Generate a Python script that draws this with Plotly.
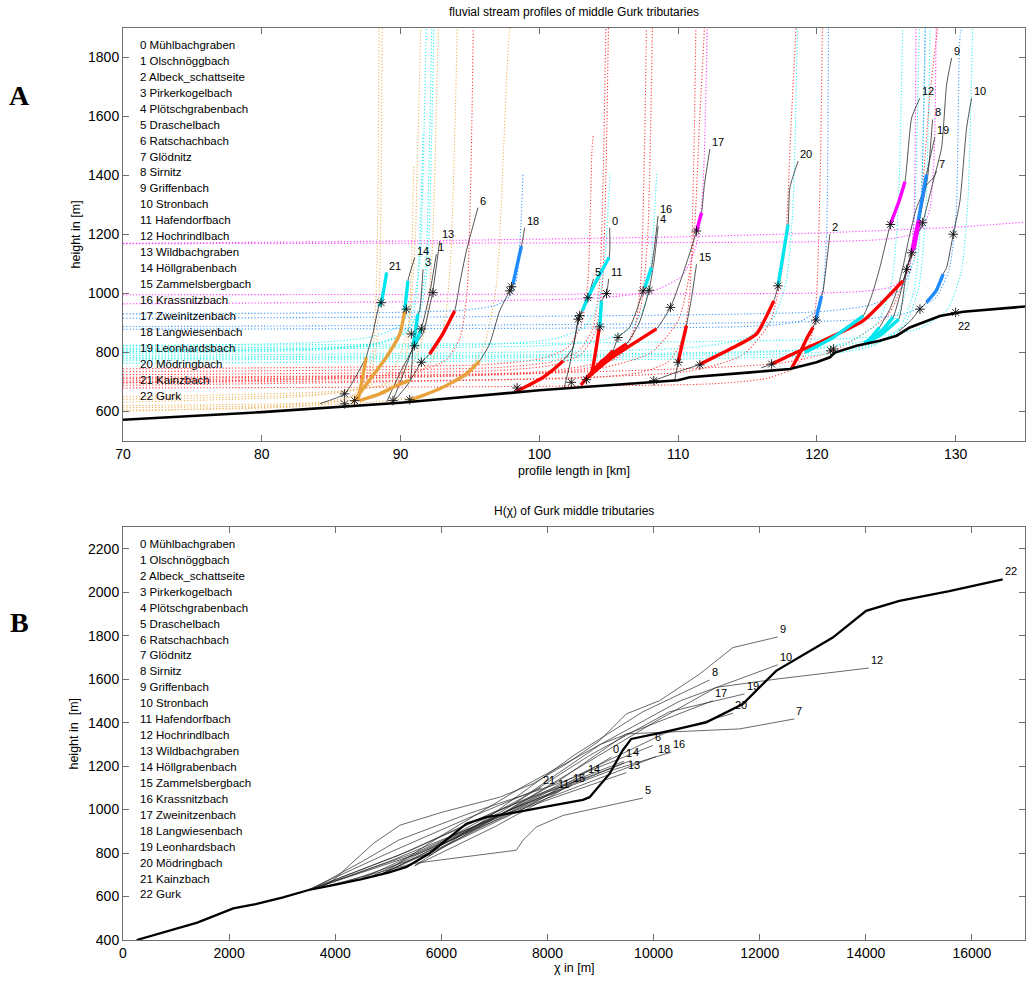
import plotly.graph_objects as go

FONT = "Liberation Sans, Arial, sans-serif"

NAMES = ["Mühlbachgraben", "Olschnöggbach", "Albeck_schattseite", "Pirkerkogelbach",
         "Plötschgrabenbach", "Draschelbach", "Ratschachbach", "Glödnitz", "Sirnitz",
         "Griffenbach", "Stronbach", "Hafendorfbach", "Hochrindlbach", "Wildbachgraben",
         "Höllgrabenbach", "Zammelsbergbach", "Krassnitzbach", "Zweinitzenbach",
         "Langwiesenbach", "Leonhardsbach", "Mödringbach", "Kainzbach", "Gurk"]

# ---------------- Panel A : profile length [km] vs height [m] ----------------
GURK_A_X = [70, 80, 90, 100, 110, 110.84, 115, 118.05, 119.98, 120.94, 121.3, 122.86,
            124.54, 125.75, 126.7, 127.67, 128.87, 130.55, 135]
GURK_A_Y = [572, 598, 630, 672, 706, 716, 732, 744, 767, 784, 800, 823,
            840, 857, 885, 902, 924, 938, 956]

TRIB_A_X = [
    [98.3, 100.27, 101.47, 101.7, 102.43, 102.8, 103.1, 103.5, 104.3, 105.03, 105.07],   # 0
    [89.0, 90.0, 91.0, 91.5, 92.1, 92.58],                                              # 1
    [118.2, 118.8, 119.3, 119.73, 119.93, 120.34, 120.45, 120.94],                      # 2
    [87.05, 88.5, 89.8, 90.66, 90.9, 91.26, 91.38, 91.62],                              # 3
    [103.0, 104.5, 106.28, 107.2, 107.91, 108.3, 108.56],                               # 4
    [101.8, 102.2, 102.6, 102.9, 103.5, 103.9],                                         # 5
    [89.46, 90.5, 91.5, 92.1, 93.0, 93.9, 94.26, 94.74, 95.58],                         # 6
    [123.6, 124.5, 125.2, 125.7, 126.2, 126.6, 127.19, 127.95, 128.39, 128.63],         # 7
    [116.0, 116.74, 118.5, 120.45, 123.34, 126.2, 126.5, 127.0, 127.4, 128.0, 128.34],  # 8
    [123.4, 124.6, 125.5, 126.47, 127.0, 127.62, 128.39, 128.99, 129.35, 129.71],       # 9
    [125.9, 126.8, 127.43, 127.9, 128.6, 129.1, 129.35, 129.83, 130.31, 130.79, 131.15],  # 10
    [103.0, 103.4, 103.76, 104.05, 104.31, 104.36, 104.48, 104.84, 105.0],              # 11
    [119.13, 121.17, 123.34, 124.0, 124.54, 125.3, 125.9, 126.35, 126.83, 127.42],      # 12
    [89.45, 90.3, 90.9, 91.6, 92.3, 92.82],                                             # 13
    [86.57, 88.01, 88.98, 89.95, 90.3, 90.53, 91.02],                                   # 14
    [109.76, 110.0, 110.3, 110.6, 110.97, 111.33],                                      # 15
    [103.4, 104.2, 105.31, 105.67, 106.5, 107.0, 107.48, 107.6, 108.08, 108.56],        # 16
    [103.4, 105.0, 106.6, 108.44, 109.45, 110.3, 111.0, 111.33, 111.69, 111.9, 112.29],  # 17
    [90.66, 92.82, 94.74, 95.7, 96.42, 97.14, 97.87, 98.1, 98.71, 98.95],               # 18
    [123.5, 124.6, 125.9, 126.47, 126.83, 127.3, 127.9, 128.5],                         # 19
    [108.25, 110.0, 111.57, 113.97, 115.65, 116.9, 117.2, 117.93, 118.05, 118.65],      # 20
    [86.93, 87.2, 87.53, 88.0, 88.44, 88.6, 89.0],                                      # 21
]
TRIB_A_Y = [
    [667, 716, 761, 772, 817, 913, 941, 986, 1060, 1122, 1223],
    [633, 735, 823, 880, 1000, 1133],
    [748, 800, 850, 885, 910, 992, 1009, 1201],
    [637, 660, 690, 705, 823, 930, 941, 1082],
    [690, 770, 829, 900, 1011, 1120, 1229],
    [682, 760, 860, 925, 986, 1049],
    [632, 690, 767, 795, 860, 941, 1032, 1144, 1291],
    [832, 885, 941, 1000, 1088, 1180, 1291, 1370, 1392, 1415],
    [748, 761, 800, 840, 908, 1043, 1090, 1150, 1250, 1400, 1590],
    [832, 870, 920, 1082, 1170, 1240, 1381, 1494, 1708, 1798],
    [872, 910, 947, 970, 1010, 1066, 1088, 1201, 1313, 1561, 1662],
    [683, 712, 722, 800, 880, 887, 975, 1000, 1050],
    [800, 851, 924, 1000, 1088, 1234, 1310, 1379, 1595, 1662],
    [637, 740, 817, 863, 1002, 1178],
    [631, 722, 784, 863, 941, 1043, 1122],
    [706, 767, 830, 891, 986, 1099],
    [712, 750, 806, 851, 885, 941, 1009, 1020, 1088, 1263],
    [712, 775, 825, 880, 953, 1060, 1160, 1212, 1274, 1370, 1490],
    [637, 677, 727, 772, 829, 941, 1009, 1032, 1161, 1223],
    [832, 860, 913, 1082, 1140, 1246, 1403, 1530],
    [705, 735, 760, 817, 863, 975, 1026, 1234, 1358, 1449],
    [637, 700, 784, 863, 958, 969, 1071],
]
AUX_A_X = [84.2, 85.97, 87.53]
AUX_A_Y = [627, 660, 784]

# fitted segments: (tributary, first point, last point, colour class)
SEG_TRIB = [0, 0, 1, 2, 2, 3, 3, 4, 6, 7, 8, 8, 9, 10, 11, 11, 12, 12, 14, 14, 15, 16, 16,
            17, 17, 18, 18, 19, 19, 19, 20, 20, 21, 21]
SEG_I0 = [0, 6, 2, 0, 4, 0, 4, 0, 3, 0, 1, 7, 0, 3, 2, 5, 0, 5, 0, 4, 1, 0, 7,
          0, 7, 0, 7, 0, 4, 5, 2, 6, 0, 4]
SEG_I1 = [3, 9, 3, 3, 5, 3, 5, 2, 5, 1, 5, 8, 2, 5, 4, 6, 2, 7, 4, 5, 3, 2, 8,
          3, 8, 3, 8, 2, 5, 6, 5, 7, 2, 6]
SEG_CLS = ['r', 'c', 'c', 'r', 'b', 'o', 'c', 'r', 'r', 'c', 'r', 'm', 'c', 'b', 'r', 'c', 'c', 'm', 'o', 'c', 'r', 'r', 'c',
           'r', 'm', 'o', 'b', 'c', 'm', 'b', 'r', 'c', 'o', 'c']

STAR_A_X = [85.97, 85.97, 86.69, 89.45, 90.66, 88.6, 90.42, 90.78, 91.0, 91.5, 91.5, 92.34,
            97.87, 98.0, 98.4, 102.3, 103.4, 102.8, 102.9, 103.5, 104.36, 104.84, 105.67,
            107.48, 107.91, 108.25, 109.45, 110.0, 111.33, 111.57, 116.74, 117.2, 119.93,
            121.0, 121.2, 125.3, 126.47, 126.83, 127.43, 127.62, 129.83, 130.0]
STAR_A_Y = [660, 626, 637, 637, 640, 969, 947, 863, 823, 880, 767, 1003,
            1009, 1023, 680, 699, 708, 913, 925, 986, 887, 1000, 851,
            1009, 1011, 705, 953, 767, 1212, 758, 761, 1026, 910,
            806, 812, 1234, 1082, 1138, 947, 1240, 1201, 936]
GURK_LABEL_A = (130.0, 936)

# modelled (dotted) profiles
DOT_CLS = ['o'] * 7 + ['c'] * 12 + ['r'] * 11 + ['b'] * 4 + ['m'] * 4
DOT_X = [
    [70, 80.5, 84.5, 86.5, 87.5, 88.0, 88.3, 88.45],
    [70, 80.73, 84.73, 86.73, 87.73, 88.23, 88.53, 88.68],
    [70, 83, 87, 89, 90, 90.5, 90.8, 90.95],
    [70, 83.5, 87.5, 89.5, 90.5, 91.0, 91.3, 91.45],
    [70, 84.77, 88.77, 90.77, 91.77, 92.27, 92.57, 92.72],
    [70, 86.14, 90.14, 92.14, 93.14, 93.64, 93.94, 94.09],
    [70, 89.92, 93.92, 95.92, 96.92, 97.42, 97.72, 97.87],
    [70, 83.67, 87.67, 89.67, 90.67, 91.17, 91.47, 91.62],
    [70, 84.3, 88.3, 90.3, 91.3, 91.8, 92.1, 92.25],
    [70, 84.45, 88.45, 90.45, 91.45, 91.95, 92.25, 92.4],
    [70, 97.2, 101.2, 103.2, 104.2, 104.7, 105.1],
    [70, 100.56, 104.56, 106.56, 107.56, 108.06, 108.46],
    [70, 110.77, 114.77, 116.77, 117.77, 118.27, 118.6],
    [70, 118.35, 122.35, 124.35, 125.35, 125.85, 126.18],
    [70, 119.55, 123.55, 125.55, 126.55, 127.05, 127.38],
    [70, 120.34, 124.34, 126.34, 127.34, 127.84, 128.17],
    [70, 123.39, 127.39, 129.39, 130.39, 130.89, 131.22],
    [70, 120, 124, 126, 127, 127.5, 127.83],
    [70, 83.9, 87.9, 89.9, 90.9, 91.4, 91.7, 91.85],
    [70, 87.29, 91.29, 93.29, 94.29, 94.79, 95.09, 95.24],
    [70, 96, 100, 102, 103, 103.5, 103.8, 103.9],
    [70, 96.84, 100.84, 102.84, 103.84, 104.34, 104.64, 104.79],
    [70, 97.03, 101.03, 103.03, 104.03, 104.53, 104.83, 104.98],
    [70, 99.77, 103.77, 105.77, 106.77, 107.27, 107.57, 107.72],
    [70, 100.32, 104.32, 106.32, 107.32, 107.82, 108.15],
    [70, 103.33, 107.33, 109.33, 110.33, 110.83, 111.13, 111.28],
    [70, 104.05, 108.05, 110.05, 111.05, 111.55, 111.9],
    [70, 110.65, 114.65, 116.65, 117.65, 118.15, 118.5],
    [70, 112.45, 116.45, 118.45, 119.45, 119.95, 120.25, 120.4],
    [70, 117.16, 121.16, 125.16, 127.16, 128.16, 128.7],
    [70, 90.87, 94.87, 96.87, 97.87, 98.37, 98.67, 98.82],
    [70, 112.89, 116.89, 118.89, 119.89, 120.39, 120.69, 120.84],
    [70, 122.55, 126.55, 128.55, 129.55, 130.05, 130.35, 130.5],
    [70, 120, 124, 126, 127, 127.5, 127.8],
    [70, 104.29, 108.29, 110.29, 111.29, 111.79, 112.1],
    [70, 119.19, 123.19, 125.19, 126.19, 126.69, 126.99, 127.14],
    [70, 90, 110, 120, 130, 135],
    [70, 120.65, 124.65, 126.65, 127.65, 128.15, 128.45, 128.6],
]
DOT_Y = [
    [605, 612, 625, 650, 700, 800, 1100, 1900],
    [613, 620, 633, 658, 708, 808, 1108, 1900],
    [620, 628, 640, 665, 715, 815, 1115, 1430],
    [632, 653, 684, 747, 872, 1122, 1600, 1900],
    [641, 661, 692, 755, 880, 1130, 1600, 1900],
    [650, 671, 702, 765, 890, 1140, 1600, 1900],
    [601, 641, 697, 810, 1035, 1485, 1800, 1900],
    [805, 812, 825, 850, 900, 1000, 1300, 1544],
    [797, 809, 828, 865, 940, 1090, 1540, 1900],
    [802, 814, 833, 870, 945, 1095, 1545, 1900],
    [814, 829, 848, 885, 960, 1110, 1405],
    [809, 824, 843, 880, 955, 1105, 1405],
    [790, 816, 847, 910, 1035, 1285, 1900],
    [779, 806, 837, 900, 1025, 1275, 1900],
    [784, 811, 842, 905, 1030, 1280, 1900],
    [774, 801, 832, 895, 1020, 1270, 1900],
    [824, 851, 882, 945, 1070, 1320, 1900],
    [764, 791, 822, 885, 1010, 1260, 1900],
    [822, 834, 853, 890, 965, 1115, 1565, 1900],
    [706, 719, 738, 775, 850, 1000, 1450, 1900],
    [745, 759, 778, 815, 890, 1040, 1490, 1540],
    [735, 749, 768, 805, 880, 1030, 1480, 1900],
    [725, 739, 758, 795, 870, 1020, 1470, 1900],
    [716, 731, 750, 787, 862, 1012, 1462, 1900],
    [712, 736, 767, 830, 955, 1205, 1900],
    [699, 714, 733, 770, 845, 995, 1445, 1900],
    [699, 744, 800, 913, 1138, 1588, 1900],
    [689, 736, 792, 905, 1130, 1580, 1900],
    [680, 694, 713, 750, 825, 975, 1425, 1900],
    [697, 763, 805, 930, 1180, 1680, 1900],
    [931, 937, 945, 960, 990, 1050, 1230, 1405],
    [879, 886, 893, 908, 938, 998, 1178, 1900],
    [888, 910, 935, 985, 1085, 1285, 1885, 1900],
    [916, 938, 963, 1013, 1113, 1313, 1900],
    [965, 985, 1010, 1060, 1160, 1360, 1900],
    [996, 1001, 1007, 1020, 1045, 1095, 1245, 1900],
    [1170, 1178, 1192, 1205, 1225, 1242],
    [1169, 1176, 1183, 1198, 1228, 1288, 1468, 1900],
]

# ---------------- Panel B : chi [m] vs height [m] ----------------
GURK_B_X = [258, 700, 1400, 2078, 2500, 3000, 3500, 3960, 4500, 5000, 5343, 5781, 6158, 6472,
            6847, 7476, 8000, 8669, 8794, 9171, 9416, 9580, 10170, 10992, 11682, 12310,
            13377, 14005, 14633, 15574, 16579]
GURK_B_Y = [400, 430, 480, 545, 565, 595, 630, 652, 680, 710, 736, 799, 874, 935,
            965, 990, 1015, 1045, 1057, 1165, 1272, 1325, 1355, 1401, 1485, 1638,
            1791, 1914, 1960, 2005, 2059]

TRIB_B_X = [
    [4200, 5800, 7600, 9203],
    [3550, 5400, 7500, 9440],
    [5500, 7000, 8200, 8700],
    [3600, 5500, 7500, 9450],
    [4700, 6300, 8000, 9580],
    [3900, 5467, 7414, 7539, 7791, 8292, 9799],
    [3550, 4500, 5200, 6500, 8200, 9987],
    [5950, 7000, 8200, 9486, 11620, 12655],
    [5500, 6800, 8500, 9800, 11055],
    [3710, 3960, 4714, 5217, 6032, 7100, 7727, 8356, 8983, 9486, 10113, 10866, 11494, 12341],
    [6150, 7500, 9000, 10500, 12341],
    [4500, 6000, 7200, 8167],
    [5750, 7000, 8500, 10000, 11180, 12310, 14055],
    [3600, 5600, 7600, 9486],
    [3500, 5200, 7000, 8733],
    [4900, 6200, 7500, 8450],
    [4900, 6200, 7800, 9200, 10333],
    [4900, 6000, 7500, 9000, 11117],
    [3600, 5000, 6800, 8500, 10051],
    [5950, 7200, 8800, 10300, 11714],
    [4900, 6500, 8500, 10200, 11494],
    [3500, 5000, 6500, 7884],
]
TRIB_B_Y = [
    [667, 800, 1010, 1241],
    [634, 810, 1040, 1222],
    [742, 920, 1080, 1160],
    [637, 800, 1020, 1215],
    [694, 880, 1080, 1226],
    [652, 752, 813, 859, 920, 973, 1053],
    [634, 760, 860, 980, 1120, 1295],
    [830, 960, 1130, 1348, 1371, 1417],
    [742, 950, 1250, 1450, 1596],
    [637, 675, 843, 928, 989, 1057, 1119, 1210, 1317, 1440, 1501, 1623, 1745, 1794],
    [872, 1050, 1300, 1500, 1666],
    [683, 850, 990, 1080],
    [785, 960, 1180, 1400, 1562, 1600, 1651],
    [637, 800, 1010, 1170],
    [632, 790, 990, 1149],
    [706, 850, 1010, 1110],
    [706, 860, 1050, 1180, 1264],
    [706, 880, 1100, 1300, 1501],
    [637, 760, 940, 1100, 1244],
    [830, 1000, 1250, 1450, 1532],
    [706, 900, 1150, 1350, 1443],
    [632, 800, 960, 1100],
]
B_LABELLED = [0, 1, 4, 5, 6, 7, 8, 9, 10, 11, 12, 13, 14, 15, 16, 17, 18, 19, 20, 21]

COL = {'r': '#ff0000', 'o': '#e9a23b', 'c': '#00e6ee', 'b': '#1e8cff', 'm': '#ff00ff'}
DCOL = {'r': '#ff3b3b', 'o': '#f0b35a', 'c': '#2ef0f0', 'b': '#3a98ff', 'm': '#ff3cff'}


def joined(xs_list, ys_list):
    X, Y = [], []
    for xs, ys in zip(xs_list, ys_list):
        X += list(xs) + [None]
        Y += list(ys) + [None]
    return X, Y


fig = go.Figure()

# dotted model curves
for k in ['o', 'r', 'c', 'b', 'm']:
    idx = [i for i, c in enumerate(DOT_CLS) if c == k]
    X, Y = joined([DOT_X[i] for i in idx], [DOT_Y[i] for i in idx])
    fig.add_trace(go.Scatter(x=X, y=Y, mode='lines', xaxis='x', yaxis='y',
                             line=dict(color=DCOL[k], width=1.1, dash='1.2px,2px',
                                       shape='spline', smoothing=0.6),
                             hoverinfo='skip'))

# thin tributary profiles
X, Y = joined(TRIB_A_X + [AUX_A_X], TRIB_A_Y + [AUX_A_Y])
fig.add_trace(go.Scatter(x=X, y=Y, mode='lines', xaxis='x', yaxis='y',
                         line=dict(color='#2a2a2a', width=0.8, shape='spline', smoothing=0.5),
                         hoverinfo='skip'))

# thick fitted segments
for k in ['o', 'r', 'c', 'b', 'm']:
    xs_l, ys_l = [], []
    for t, i0, i1, c in zip(SEG_TRIB, SEG_I0, SEG_I1, SEG_CLS):
        if c == k:
            xs_l.append(TRIB_A_X[t][i0:i1 + 1])
            ys_l.append(TRIB_A_Y[t][i0:i1 + 1])
    X, Y = joined(xs_l, ys_l)
    fig.add_trace(go.Scatter(x=X, y=Y, mode='lines', xaxis='x', yaxis='y',
                             line=dict(color=COL[k], width=3.4, shape='spline', smoothing=0.5),
                             hoverinfo='skip'))

# Gurk main stem (A)
fig.add_trace(go.Scatter(x=GURK_A_X, y=GURK_A_Y, mode='lines', xaxis='x', yaxis='y',
                         line=dict(color='black', width=2.6), hoverinfo='skip'))
# knickpoint stars
fig.add_trace(go.Scatter(x=STAR_A_X, y=STAR_A_Y, mode='markers', xaxis='x', yaxis='y',
                         marker=dict(symbol='asterisk-open', size=8, color='#111111',
                                     line=dict(color='#111111', width=0.9)),
                         hoverinfo='skip'))

# Panel B
X, Y = joined(TRIB_B_X, TRIB_B_Y)
fig.add_trace(go.Scatter(x=X, y=Y, mode='lines', xaxis='x2', yaxis='y2',
                         line=dict(color='#2a2a2a', width=0.7), hoverinfo='skip'))
fig.add_trace(go.Scatter(x=GURK_B_X, y=GURK_B_Y, mode='lines', xaxis='x2', yaxis='y2',
                         line=dict(color='black', width=2.3), hoverinfo='skip'))

ann = []
# tributary labels A
for i in range(22):
    ann.append(dict(x=TRIB_A_X[i][-1], y=TRIB_A_Y[i][-1], xref='x', yref='y', text=str(i),
                    showarrow=False, xanchor='left', yanchor='middle', yshift=7,
                    font=dict(family=FONT, size=11, color='#000000')))
ann.append(dict(x=GURK_LABEL_A[0], y=GURK_LABEL_A[1], xref='x', yref='y', text='22',
                showarrow=False, xanchor='left', yanchor='middle', yshift=-14,
                font=dict(family=FONT, size=11, color='#000000')))
# tributary labels B
for i in B_LABELLED:
    ann.append(dict(x=TRIB_B_X[i][-1], y=TRIB_B_Y[i][-1], xref='x2', yref='y2', text=str(i),
                    showarrow=False, xanchor='left', yanchor='middle', yshift=8,
                    font=dict(family=FONT, size=11, color='#000000')))
ann.append(dict(x=GURK_B_X[-1], y=GURK_B_Y[-1], xref='x2', yref='y2', text='22',
                showarrow=False, xanchor='left', yanchor='middle', yshift=8,
                font=dict(family=FONT, size=11, color='#000000')))

# name lists
for xr, yr in [('x domain', 'y domain'), ('x2 domain', 'y2 domain')]:
    for i, n in enumerate(NAMES):
        ann.append(dict(x=0.0166, y=0.9588 - i * 0.03857, xref=xr, yref=yr,
                        text=f"{i} {n}", showarrow=False, xanchor='left', yanchor='middle',
                        font=dict(family=FONT, size=11.5, color='#000000')))

tfont = dict(family=FONT, size=12.5, color='black')
ann += [
    dict(x=0.5, y=1.0175, xref='paper', yref='paper', text='fluvial stream profiles of middle Gurk tributaries',
         showarrow=False, xanchor='center', yanchor='middle', font=dict(family=FONT, size=12, color='black')),
    dict(x=0.5, y=0.4704, xref='paper', yref='paper', text='H(χ) of Gurk middle tributaries',
         showarrow=False, xanchor='center', yanchor='middle', font=dict(family=FONT, size=12, color='black')),
    dict(x=0.5, y=0.5143, xref='paper', yref='paper', text='profile length in [km]',
         showarrow=False, xanchor='center', yanchor='middle', font=tfont),
    dict(x=0.5, y=-0.0307, xref='paper', yref='paper', text='χ in [m]',
         showarrow=False, xanchor='center', yanchor='middle', font=tfont),
    dict(x=-0.0521, y=0.7736, xref='paper', yref='paper', text='height in [m]', textangle=-90,
         showarrow=False, xanchor='center', yanchor='middle', font=tfont),
    dict(x=-0.0543, y=0.2264, xref='paper', yref='paper', text='height in  [m]', textangle=-90,
         showarrow=False, xanchor='center', yanchor='middle', font=tfont),
    dict(x=-0.1142, y=0.9265, xref='paper', yref='paper', text='<b>A</b>',
         showarrow=False, xanchor='center', yanchor='middle',
         font=dict(family='Liberation Serif, Times New Roman, serif', size=28, color='black')),
    dict(x=-0.1142, y=0.3476, xref='paper', yref='paper', text='<b>B</b>',
         showarrow=False, xanchor='center', yanchor='middle',
         font=dict(family='Liberation Serif, Times New Roman, serif', size=28, color='black')),
]

axc = dict(showline=True, linecolor='#6f6f6f', linewidth=1, mirror='ticks', ticks='inside',
           ticklen=6, tickcolor='#6f6f6f', showgrid=False, zeroline=False, tickformat='d',
           tickfont=dict(family=FONT, size=14, color='black'))

fig.update_layout(
    width=1030, height=981, margin=dict(l=123, r=5, t=28, b=41),
    paper_bgcolor='white', plot_bgcolor='white', showlegend=False,
    xaxis=dict(domain=[0, 1], range=[70, 135], anchor='y', tickvals=[70, 80, 90, 100, 110, 120, 130], **axc),
    yaxis=dict(domain=[0.5471, 1], range=[500, 1900], anchor='x',
               tickvals=[600, 800, 1000, 1200, 1400, 1600, 1800], **axc),
    xaxis2=dict(domain=[0, 1], range=[0, 17000], anchor='y2',
                tickvals=[0, 2000, 4000, 6000, 8000, 10000, 12000, 14000, 16000], **axc),
    yaxis2=dict(domain=[0, 0.4529], range=[400, 2300], anchor='x2',
                tickvals=[400, 600, 800, 1000, 1200, 1400, 1600, 1800, 2000, 2200], **axc),
    annotations=ann,
)

fig.write_html("out.html")
